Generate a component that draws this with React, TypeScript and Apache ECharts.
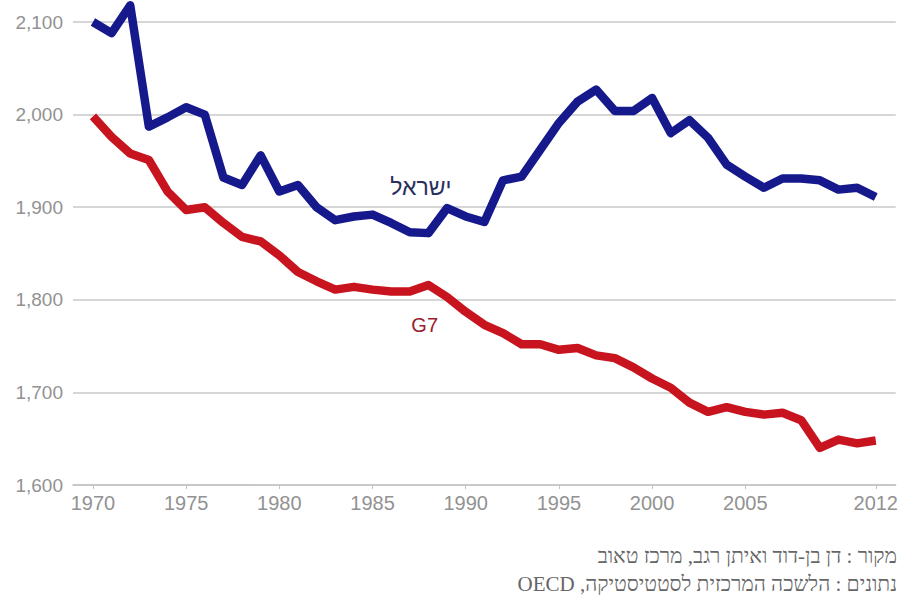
import React, { useEffect, useRef } from "react";
import * as echarts from "echarts";

const years = [1970, 1971, 1972, 1973, 1974, 1975, 1976, 1977, 1978, 1979, 1980, 1981, 1982, 1983, 1984, 1985, 1986, 1987, 1988, 1989, 1990, 1991, 1992, 1993, 1994, 1995, 1996, 1997, 1998, 1999, 2000, 2001, 2002, 2003, 2004, 2005, 2006, 2007, 2008, 2009, 2010, 2011, 2012];

const israel = [2100, 2088, 2118, 1987, 1997, 2008, 2000, 1932, 1924, 1956, 1917, 1924, 1900, 1886, 1890, 1892, 1883, 1873, 1872, 1899, 1890, 1884, 1929, 1933, 1962, 1991, 2014, 2027, 2004, 2004, 2018, 1980, 1994, 1975, 1946, 1933, 1921, 1931, 1931, 1929, 1919, 1921, 1911];

const g7 = [1998, 1976, 1958, 1951, 1917, 1897, 1900, 1883, 1868, 1863, 1848, 1830, 1820, 1811, 1814, 1811, 1809, 1809, 1816, 1803, 1787, 1773, 1764, 1752, 1752, 1746, 1748, 1740, 1737, 1727, 1715, 1705, 1689, 1679, 1684, 1679, 1676, 1678, 1670, 1640, 1649, 1645, 1648];

const xTickYears = [1970, 1975, 1980, 1985, 1990, 1995, 2000, 2005, 2012];

const israelName = "ישראל";
const g7Name = "G7";
const israelLabelAt = [1987.6, 1922];
const g7LabelAt = [1987.8, 1773];

const sourceLine1 = "מקור : דן בן-דוד ואיתן רגב, מרכז טאוב";
const sourceLine2 = "נתונים : הלשכה המרכזית לסטטיסטיקה, OECD";

export default function App() {
  const ref = useRef<HTMLDivElement>(null);

  useEffect(() => {
    if (!ref.current) return;
    const chart = echarts.init(ref.current, null, { renderer: "svg" });
    const labelPoint = (coord: number[], text: string, color: string, size: number) => ({
      symbol: "circle",
      symbolSize: 1,
      silent: true,
      itemStyle: { color: "rgba(0,0,0,0)" },
      label: {
        show: true,
        position: "inside",
        formatter: text,
        color,
        fontSize: size,
        fontFamily: "Liberation Sans, Arial, sans-serif",
      },
      data: [{ coord }],
    });

    chart.setOption({
      animation: false,
      backgroundColor: "#ffffff",
      grid: { left: 73, right: 4, top: 22, bottom: 113, containLabel: false },
      xAxis: {
        type: "value",
        min: 1968.93,
        max: 2013.07,
        axisLine: { show: true, lineStyle: { color: "#c4c4c4", width: 1.5 } },
        axisTick: {
          show: true,
          customValues: xTickYears,
          length: 4,
          lineStyle: { color: "#c4c4c4", width: 1 },
        },
        axisLabel: {
          customValues: xTickYears,
          color: "#929292",
          fontSize: 20,
          margin: 8,
          fontFamily: "Liberation Sans, Arial, sans-serif",
          formatter: (v: number) => String(v),
        },
        splitLine: { show: false },
      },
      yAxis: {
        type: "value",
        min: 1600,
        max: 2100,
        interval: 100,
        axisLine: { show: false },
        axisTick: { show: false },
        axisLabel: {
          color: "#929292",
          fontSize: 19,
          margin: 10,
          fontFamily: "Liberation Sans, Arial, sans-serif",
          formatter: (v: number) => v.toLocaleString("en-US"),
        },
        splitLine: { show: true, lineStyle: { color: "#c8c8c8", width: 1.5 } },
      },
      series: [
        {
          name: israelName,
          type: "line",
          data: years.map((y, i) => [y, israel[i]]),
          symbol: "none",
          clip: false,
          lineStyle: { color: "#15198c", width: 8.5, join: "round" },
          markPoint: labelPoint(israelLabelAt, israelName, "#2b2f5e", 23),
        },
        {
          name: g7Name,
          type: "line",
          data: years.map((y, i) => [y, g7[i]]),
          symbol: "none",
          clip: false,
          lineStyle: { color: "#c8141e", width: 8.5, join: "round" },
          markPoint: labelPoint(g7LabelAt, g7Name, "#9a2030", 20),
        },
      ],
      graphic: [
        {
          type: "text",
          right: 4,
          top: 545,
          style: {
            text: sourceLine1,
            fill: "#666666",
            fontSize: 21,
            fontFamily: "Liberation Serif, Times New Roman, serif",
          },
        },
        {
          type: "text",
          right: 4,
          top: 573,
          style: {
            text: "\u202B" + sourceLine2 + "\u202C",
            fill: "#666666",
            fontSize: 21,
            fontFamily: "Liberation Serif, Times New Roman, serif",
          },
        },
      ],
    });
    return () => chart.dispose();
  }, []);

  return (
    <div
      ref={ref}
      style={{ position: "fixed", left: 0, top: 0, width: 901, height: 598, background: "#fff" }}
    />
  );
}
